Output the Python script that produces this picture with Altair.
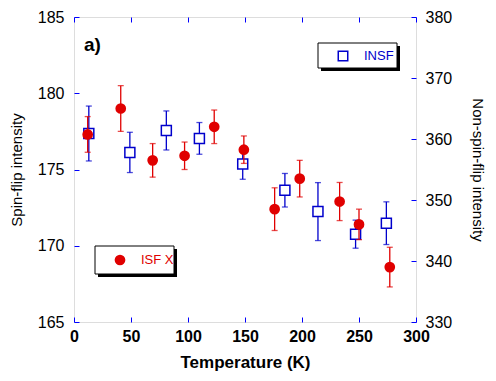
import altair as alt
import pandas as pd

# ISF X (spin-flip, left axis)
isf_T = [12, 41, 69, 97, 123, 149, 176, 198, 233, 250, 277]
isf_y = [177.3, 179.0, 175.6, 175.9, 177.8, 176.3, 172.4, 174.4, 172.9, 171.4, 168.6]
isf_err = [1.17, 1.5, 1.1, 0.9, 1.1, 0.9, 1.4, 1.2, 1.25, 1.0, 1.3]

# INSF (non-spin-flip, right axis)
insf_T = [13, 49, 81, 110, 148, 185, 214, 247, 274]
insf_y = [360.9, 357.8, 361.4, 360.1, 355.9, 351.6, 348.1, 344.4, 346.2]
insf_err = [4.5, 3.3, 3.2, 2.6, 2.5, 2.75, 4.75, 2.3, 3.5]

x_ticks = [0, 50, 100, 150, 200, 250, 300]
left_ticks = [165, 170, 175, 180, 185]
right_ticks = [330, 340, 350, 360, 370, 380]

RED = "#e00000"
BLUE = "#0000cc"
FRAME = "#0000ff"
FONT = "Liberation Sans"

isf = pd.DataFrame({"T": isf_T, "y": isf_y, "e": isf_err})
isf["lo"] = isf["y"] - isf["e"]
isf["hi"] = isf["y"] + isf["e"]
insf = pd.DataFrame({"T": insf_T, "y": insf_y, "e": insf_err})
insf["lo"] = insf["y"] - insf["e"]
insf["hi"] = insf["y"] + insf["e"]

xscale = alt.Scale(domain=[0, 300], nice=False, zero=False)

x_bottom = alt.Axis(orient="bottom", values=x_ticks, title="Temperature (K)",
                    domain=False, grid=False, tickColor=FRAME, tickSize=5, offset=-5,
                    labelFlush=False, labelOverlap=False,
                    labelPadding=6, labelFontSize=16, labelFontWeight="bold",
                    labelColor="black", titleFontSize=17, titleFontWeight="bold",
                    titlePadding=10, titleColor="black", labelFont=FONT, titleFont=FONT)
x_top = alt.Axis(orient="top", values=x_ticks, title=None, labels=False,
                 domain=False, grid=False, tickColor=FRAME, tickSize=5, offset=-5)

yl_scale = alt.Scale(domain=[165, 185], nice=False, zero=False)
yr_scale = alt.Scale(domain=[330, 380], nice=False, zero=False)

y_left = alt.Axis(orient="left", values=left_ticks, title="Spin-flip intensity",
                  domain=False, grid=False, tickColor=FRAME, tickSize=5, offset=-5,
                  labelFlush=False, labelOverlap=False,
                  labelPadding=10, labelFontSize=16, labelColor="black",
                  titleFontSize=15, titleFontWeight="normal", titlePadding=13,
                  titleColor="black", labelFont=FONT, titleFont=FONT)
y_right = alt.Axis(orient="right", values=right_ticks, title="Non-spin-flip intensity",
                   domain=False, grid=False, tickColor=FRAME, tickSize=5, offset=-5,
                   labelFlush=False, labelOverlap=False,
                   labelPadding=9, labelFontSize=16, labelColor="black",
                   titleFontSize=15, titleFontWeight="normal", titlePadding=18,
                   titleColor="black", labelFont=FONT, titleFont=FONT)

# Blue (INSF) layer - right axis, bottom x axis
bx = alt.X("T:Q", scale=xscale, axis=x_bottom)
b_rule = alt.Chart(insf).mark_rule(color=BLUE, strokeWidth=1.3).encode(
    x=bx, y=alt.Y("lo:Q", scale=yr_scale, axis=y_right), y2="hi:Q")
b_cap_lo = alt.Chart(insf).mark_tick(color=BLUE, orient="horizontal", size=6, thickness=1.3).encode(
    x=bx, y=alt.Y("lo:Q", scale=yr_scale, axis=y_right))
b_cap_hi = alt.Chart(insf).mark_tick(color=BLUE, orient="horizontal", size=6, thickness=1.3).encode(
    x=bx, y=alt.Y("hi:Q", scale=yr_scale, axis=y_right))
b_pts = alt.Chart(insf).mark_point(shape="square", size=100, filled=True, fill="white",
                                   stroke=BLUE, strokeWidth=1.5, opacity=1).encode(
    x=bx, y=alt.Y("y:Q", scale=yr_scale, axis=y_right))
blue = alt.layer(b_rule, b_cap_lo, b_cap_hi, b_pts)

# Red (ISF X) layer - left axis, top x axis
rx = alt.X("T:Q", scale=xscale, axis=x_top)
r_rule = alt.Chart(isf).mark_rule(color=RED, strokeWidth=1.3).encode(
    x=rx, y=alt.Y("lo:Q", scale=yl_scale, axis=y_left), y2="hi:Q")
r_cap_lo = alt.Chart(isf).mark_tick(color=RED, orient="horizontal", size=6, thickness=1.3).encode(
    x=rx, y=alt.Y("lo:Q", scale=yl_scale, axis=y_left))
r_cap_hi = alt.Chart(isf).mark_tick(color=RED, orient="horizontal", size=6, thickness=1.3).encode(
    x=rx, y=alt.Y("hi:Q", scale=yl_scale, axis=y_left))
r_pts = alt.Chart(isf).mark_circle(size=115, color=RED, opacity=1).encode(
    x=rx, y=alt.Y("y:Q", scale=yl_scale, axis=y_left))
red = alt.layer(r_rule, r_cap_lo, r_cap_hi, r_pts)

# Legend boxes and panel label (decorations, pixel positions in plot area)
one = alt.Data(values=[{"a": 1}])
deco = []
# INSF legend
deco.append(alt.Chart(one).mark_rect(color="black").encode(
    x=alt.value(247), x2=alt.value(326), y=alt.value(29), y2=alt.value(54)))
deco.append(alt.Chart(one).mark_rect(fill="white", stroke="black", strokeWidth=1).encode(
    x=alt.value(244), x2=alt.value(323), y=alt.value(26), y2=alt.value(51)))
deco.append(alt.Chart(one).mark_point(shape="square", size=90, filled=True, fill="white",
                                      stroke=BLUE, strokeWidth=1.5, opacity=1).encode(
    x=alt.value(269), y=alt.value(39)))
deco.append(alt.Chart(one).mark_text(text="INSF", color=BLUE, font=FONT, fontSize=13,
                                     align="left", baseline="middle").encode(
    x=alt.value(290), y=alt.value(39)))
# ISF X legend
deco.append(alt.Chart(one).mark_rect(color="black").encode(
    x=alt.value(24), x2=alt.value(103), y=alt.value(232), y2=alt.value(260)))
deco.append(alt.Chart(one).mark_rect(fill="white", stroke="black", strokeWidth=1).encode(
    x=alt.value(21), x2=alt.value(100), y=alt.value(229), y2=alt.value(257)))
deco.append(alt.Chart(one).mark_circle(size=115, color=RED, opacity=1).encode(
    x=alt.value(46), y=alt.value(243)))
deco.append(alt.Chart(one).mark_text(text="ISF X", color=RED, font=FONT, fontSize=13,
                                     align="left", baseline="middle").encode(
    x=alt.value(67), y=alt.value(243)))
# panel label
deco.append(alt.Chart(one).mark_text(text="a)", color="black", font=FONT, fontSize=19,
                                     fontWeight="bold", align="left", baseline="middle").encode(
    x=alt.value(10), y=alt.value(28)))

chart = alt.layer(blue, red, *deco).resolve_scale(y="independent").resolve_axis(
    x="independent", y="independent"
).properties(
    width=342, height=305,
    autosize=alt.AutoSizeParams(type="none"),
    padding={"left": 66, "top": 9, "right": 72, "bottom": 51},
).configure_view(stroke=FRAME, strokeWidth=1.2).configure(font=FONT)

chart.save("out.html", embed_options={"renderer": "svg", "actions": False})
